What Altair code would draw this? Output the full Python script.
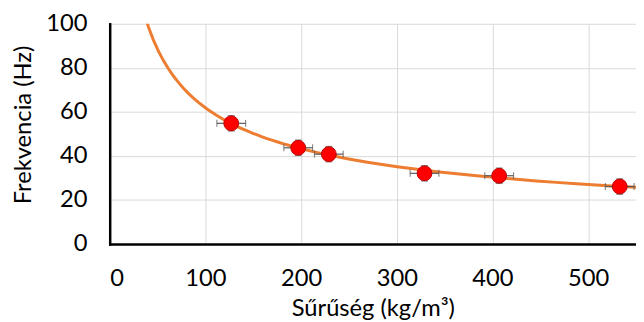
import altair as alt
import pandas as pd

density = [127, 197, 229, 329, 407, 533]
freq = [54.8, 43.7, 40.8, 32.1, 31.0, 26.1]
x_err = [15, 15, 15, 15, 15, 15]
y_err = [3.5, 3.5, 3.5, 3.5, 3.5, 3.5]

XT = "Sűrűség (kg/m³)"
YT = "Frekvencia (Hz)"

df = pd.DataFrame({
    "x": density,
    "y": freq,
    "xlo": [a - e for a, e in zip(density, x_err)],
    "xhi": [a + e for a, e in zip(density, x_err)],
    "ylo": [a - e for a, e in zip(freq, y_err)],
    "yhi": [a + e for a, e in zip(freq, y_err)],
})

FONT = "Lato"
xscale = alt.Scale(domain=[0, 550], nice=False)
yscale = alt.Scale(domain=[0, 100], nice=False)

xaxis = alt.Axis(values=[0, 100, 200, 300, 400, 500], title=XT,
                 grid=True, gridColor="#d9d9d9", ticks=False, domainColor="black",
                 domainWidth=2.5, labelFontSize=24, titleFontSize=24, labelPadding=23,
                 titlePadding=6, labelFont=FONT, titleFont=FONT, titleFontWeight="normal",
                 labelColor="black", titleColor="black")
yaxis = alt.Axis(values=[0, 20, 40, 60, 80, 100], title=YT,
                 grid=True, gridColor="#d9d9d9", ticks=False, domainColor="black",
                 domainWidth=2.5, labelFontSize=24, titleFontSize=24, labelPadding=23,
                 titlePadding=10, titleY=102, labelFont=FONT, titleFont=FONT,
                 titleFontWeight="normal", labelColor="black", titleColor="black")

base = alt.Chart(df)

curve = base.transform_regression("x", "y", method="pow", extent=[30, 550]).mark_line(
    color="#ED7D31", strokeWidth=3, clip=True
).encode(x=alt.X("x:Q", scale=xscale, axis=xaxis, title=XT),
         y=alt.Y("y:Q", scale=yscale, axis=yaxis, title=YT))

hbar = base.mark_errorbar(ticks=alt.MarkConfig(size=7), color="#595959", thickness=1.2).encode(
    x=alt.X("xlo:Q", scale=xscale, title=XT), x2="xhi:Q",
    y=alt.Y("y:Q", scale=yscale, title=YT)
)
vbar = base.mark_errorbar(ticks=alt.MarkConfig(size=7), color="#595959", thickness=1.2).encode(
    y=alt.Y("ylo:Q", scale=yscale, title=YT), y2="yhi:Q",
    x=alt.X("x:Q", scale=xscale, title=XT)
)

points = base.mark_point(filled=True, size=225, color="#FF0000", stroke="#C00000",
                         strokeWidth=1, opacity=1, shape="circle").encode(
    x=alt.X("x:Q", scale=xscale, title=XT), y=alt.Y("y:Q", scale=yscale, title=YT)
)

chart = (curve + hbar + vbar + points).properties(
    width=533, height=223,
    autosize=alt.AutoSizeParams(type="none"),
    padding={"left": 103, "top": 14, "right": 0, "bottom": 77}
).configure_view(stroke=None).configure_axis(domainCap="square")

chart.save("out.html", embed_options={"renderer": "svg", "actions": False})
